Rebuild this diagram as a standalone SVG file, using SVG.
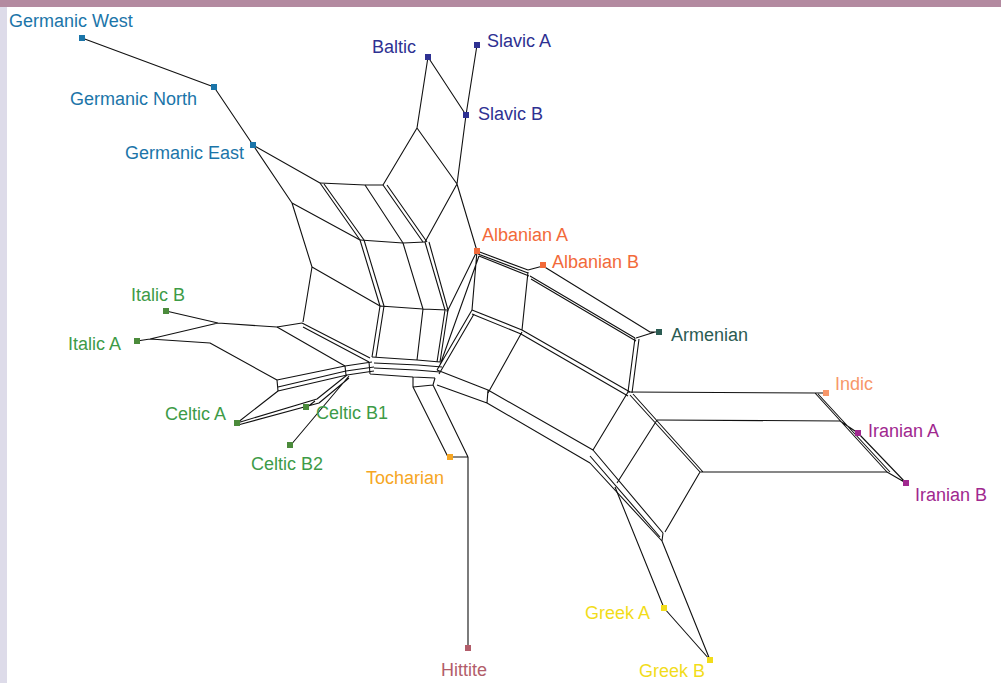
<svg xmlns="http://www.w3.org/2000/svg" width="1001" height="683" viewBox="0 0 1001 683">
<style>
.e{fill:none;stroke:#111;stroke-width:1.1;stroke-linejoin:round}
text{font-family:"Liberation Sans",Arial,sans-serif;font-size:18px}
.ge{fill:#1b75a9}.sl{fill:#2e3192}.al{fill:#f26a3a}.ar{fill:#2b5b52}.in{fill:#f7976a}.ir{fill:#a0288f}.it{fill:#3d9b47}.itq{fill:#4b8b3b}.to{fill:#f6a623}.hi{fill:#b25d6a}.gr{fill:#f2dc1a}
</style>
<rect x="0" y="0" width="1001" height="683" fill="#fff"/>
<rect x="0" y="0" width="1001" height="7" fill="#b38aa0"/>
<rect x="0" y="7" width="7" height="676" fill="#dddbe9"/>
<g id="connectors" class="e">
<path d="M82 38L214 87L253 145L320 183M253 145L292 203"/>
<path d="M320 183L365 185L383 185M292 203L360 240M292 203L312 267"/>
<path d="M320 183L360 240M324 184L364 240M365 185L403 243M383 185L423 242M387 185L427 242"/>
<path d="M383 185L417 128L428 57L466 115L457 184L417 128M477 45L466 115M457 184L425 242M457 184L477 251"/>
<path d="M360 240L403 243L425 242M312 267L380 306M312 267L303 322"/>
<path d="M360 240L380 306M364 240L384 306M403 243L423 309M425 242L445 310M429 242L448 310"/>
<path d="M380 306L423 309L447 310M380 306L372 357M384 306L376 357M423 309L417 360M445 310L437 362M448 310L440 362"/>
<path d="M166 311L218 323L277 327L302 323M137 341L150 339L218 323M150 339L210 343L277 380"/>
<path d="M277 327L345 366M302 323L370 358M303 327L369 362"/>
<path d="M277 380L345 366L372 362M278 387L346 371L374 367M278 391L347 375L374 371M277 380L278 391"/>
<path d="M237 423L278 391M237 423L317 399L347 375M238 425L319 403L349 378M290 446L349 376M306 408L315 401"/>
<path d="M372 357L417 360L440 362M374 363L418 365L442 367M374 368L416 370L440 372M370 374L413 377L435 378M369 362L370 374M345 366L346 375"/>
<path d="M413 377L413 387L448 457L468 457L468 648M435 378L433 385L468 457M413 387L433 385"/>
<path d="M477 251L528 270M478 254L528 273M479 256L529 276M528 270L543 266L650 332L659 332M530 276L635 338M531 279L636 341M636 338L655 332"/>
<path d="M635 338L628 392M639 339L632 393"/>
<path d="M477 251L472 310M477 251L447 312M479 256L440 365M472 310L437 370M474 314L439 374"/>
<path d="M472 310L522 330M472 314L521 334M528 272L522 330M522 330L630 392M521 334L628 396M522 332L488 393"/>
<path d="M437 370L488 390L593 450M437 385L487 403L590 463M488 390L487 403M593 450L628 392"/>
<path d="M628 392L815 393L826 393M815 393L887 472L906 483M818 394L890 472M657 420L840 421L858 433L906 483"/>
<path d="M630 395L700 472M633 394L703 472M700 472L887 472M657 420L617 483M700 472L665 532"/>
<path d="M593 450L663 533M590 456L660 537M590 463L662 541M663 533L662 541"/>
<path d="M615 487L664 608L710 660L662 541"/>
</g>
<g id="Germanic_West"><rect x="79" y="35" width="6" height="6" class="ge"/><text x="9" y="27" class="ge">Germanic West</text></g>
<g id="Germanic_North"><rect x="211" y="84" width="6" height="6" class="ge"/><text x="70" y="105" class="ge">Germanic North</text></g>
<g id="Germanic_East"><rect x="250" y="142" width="6" height="6" class="ge"/><text x="125" y="159" class="ge">Germanic East</text></g>
<g id="Baltic"><rect x="425" y="54" width="6" height="6" class="sl"/><text x="372" y="53" class="sl">Baltic</text></g>
<g id="Slavic_A"><rect x="474" y="42" width="6" height="6" class="sl"/><text x="487" y="47" class="sl">Slavic A</text></g>
<g id="Slavic_B"><rect x="463" y="112" width="6" height="6" class="sl"/><text x="478" y="120" class="sl">Slavic B</text></g>
<g id="Albanian_A"><rect x="474" y="248" width="6" height="6" class="al"/><text x="482" y="241" class="al">Albanian A</text></g>
<g id="Albanian_B"><rect x="540" y="262" width="6" height="6" class="al"/><text x="552" y="268" class="al">Albanian B</text></g>
<g id="Armenian"><rect x="656" y="329" width="6" height="6" class="ar"/><text x="671" y="341" class="ar">Armenian</text></g>
<g id="Indic"><rect x="823" y="390" width="6" height="6" class="in"/><text x="835" y="390" class="in">Indic</text></g>
<g id="Iranian_A"><rect x="855" y="430" width="6" height="6" class="ir"/><text x="868" y="437" class="ir">Iranian A</text></g>
<g id="Iranian_B"><rect x="903" y="480" width="6" height="6" class="ir"/><text x="915" y="501" class="ir">Iranian B</text></g>
<g id="Italic_B"><rect x="163" y="308" width="6" height="6" class="itq"/><text x="131" y="301" class="it">Italic B</text></g>
<g id="Italic_A"><rect x="134" y="338" width="6" height="6" class="itq"/><text x="68" y="350" class="it">Italic A</text></g>
<g id="Celtic_A"><rect x="234" y="420" width="6" height="6" class="itq"/><text x="165" y="420" class="it">Celtic A</text></g>
<g id="Celtic_B1"><rect x="303" y="404" width="6" height="6" class="itq"/><text x="316" y="419" class="it">Celtic B1</text></g>
<g id="Celtic_B2"><rect x="287" y="442" width="6" height="6" class="itq"/><text x="251" y="470" class="it">Celtic B2</text></g>
<g id="Tocharian"><rect x="447" y="454" width="6" height="6" class="to"/><text x="366" y="484" class="to">Tocharian</text></g>
<g id="Hittite"><rect x="465" y="645" width="6" height="6" class="hi"/><text x="441" y="676" class="hi">Hittite</text></g>
<g id="Greek_A"><rect x="661" y="605" width="6" height="6" class="gr"/><text x="585" y="619" class="gr">Greek A</text></g>
<g id="Greek_B"><rect x="707" y="657" width="6" height="6" class="gr"/><text x="639" y="677" class="gr">Greek B</text></g>
</svg>
